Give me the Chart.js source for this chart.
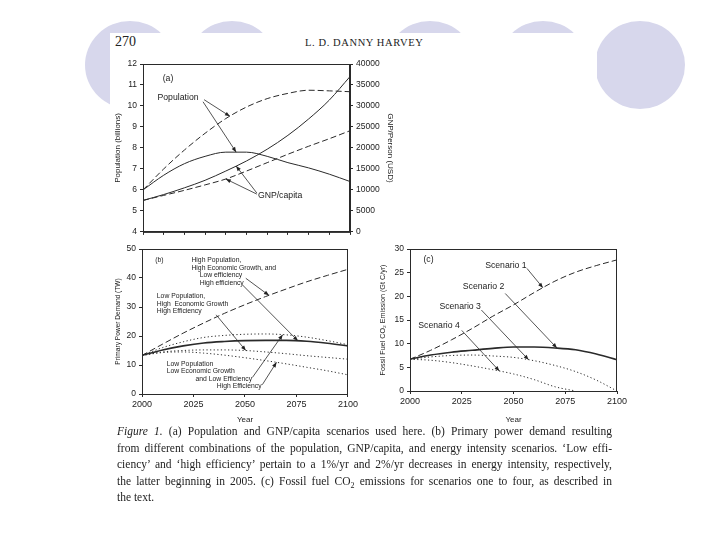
<!DOCTYPE html>
<html>
<head>
<meta charset="utf-8">
<script src="https://cdn.jsdelivr.net/npm/chart.js@4.4.1/dist/chart.umd.min.js"></script>
<style>
body{margin:0;width:720px;height:540px;background:#fff;position:relative;overflow:hidden;font-family:"Liberation Serif",serif;color:#222}
.dot{position:absolute;border-radius:50%;background:#d7d7ec;width:90px;height:88px;top:21px}
#page{position:absolute;left:110px;top:33px;width:487px;height:475px;background:#fff}
canvas{position:absolute}
.hd{position:absolute;white-space:nowrap}
.cap{position:absolute;left:117px;width:495px;font-size:11.5px;line-height:14px;white-space:nowrap;text-align:justify;text-align-last:justify}
</style>
</head>
<body>
<div class="dot" style="left:85px"></div>
<div class="dot" style="left:187px"></div>
<div class="dot" style="left:385px"></div>
<div class="dot" style="left:498px"></div>
<div class="dot" style="left:595px"></div>
<div id="page"></div>
<div class="hd" style="left:115px;top:34px;font-size:14px">270</div>
<div class="hd" style="left:305px;top:37px;font-size:10.5px;letter-spacing:0.6px">L. D. DANNY HARVEY</div>
<canvas id="chartA" width="300" height="185" style="left:105px;top:55px"></canvas>
<canvas id="chartB" width="255" height="185" style="left:105px;top:240px"></canvas>
<canvas id="chartC" width="260" height="185" style="left:370px;top:240px"></canvas>
<div class="cap" style="top:424px"><i>Figure 1.</i> (a) Population and GNP/capita scenarios used here. (b) Primary power demand resulting</div>
<div class="cap" style="top:441px">from different combinations of the population, GNP/capita, and energy intensity scenarios. ‘Low effi-</div>
<div class="cap" style="top:457px">ciency’ and ‘high efficiency’ pertain to a 1%/yr and 2%/yr decreases in energy intensity, respectively,</div>
<div class="cap" style="top:474px">the latter beginning in 2005. (c) Fossil fuel CO<sub style="font-size:8px">2</sub> emissions for scenarios one to four, as described in</div>
<div class="cap" style="top:490px;text-align-last:left">the text.</div>
<script>
// years shared by all three panels
const years = [2000, 2010, 2020, 2030, 2040, 2050, 2060, 2070, 2080, 2090, 2100]

// (a) population (billions) and GNP/capita (USD)
const popHigh = [6.0, 7.0, 7.9, 8.7, 9.4, 9.95, 10.35, 10.6, 10.75, 10.72, 10.68]
const popLow = [6.0, 6.7, 7.25, 7.6, 7.8, 7.8, 7.6, 7.3, 7.05, 6.75, 6.4]
const gnpHigh = [7500, 8900, 10500, 12300, 14500, 16900, 19700, 23000, 26900, 31400, 37000]
const gnpLow = [7500, 8700, 9900, 11200, 12600, 14500, 16500, 18500, 20400, 22200, 24100]

// (b) primary power demand (TW)
const hiPopLowEff = [13.3, 17.2, 21.0, 24.5, 27.8, 30.8, 33.6, 36.2, 38.7, 40.9, 43.0]
const hiPopHighEff = [13.3, 15.2, 16.6, 17.6, 18.1, 18.4, 18.5, 18.5, 18.2, 17.5, 16.6]
const loPopLoGrowthLowEff = [13.3, 16.0, 18.0, 19.5, 20.2, 20.6, 20.7, 20.4, 19.6, 18.4, 17.0]
const loPopHiGrowthHighEff = [13.3, 14.5, 15.0, 15.2, 15.2, 15.0, 14.5, 13.9, 13.2, 12.6, 12.0]
const loPopLoGrowthHighEff = [13.3, 14.3, 14.5, 14.1, 13.4, 12.5, 11.5, 10.4, 9.2, 8.0, 6.6]

// (c) fossil fuel CO2 emission (Gt C/yr)
const scenario1 = [6.7, 8.6, 10.8, 13.2, 15.8, 18.2, 20.8, 23.2, 25.1, 26.5, 27.7]
const scenario2 = [6.7, 7.6, 8.2, 8.6, 9.0, 9.3, 9.3, 9.1, 8.7, 7.8, 6.6]
const scenario3 = [6.7, 7.2, 7.5, 7.6, 7.4, 7.1, 6.4, 5.4, 4.1, 2.3, 0.0]
const scenario4 = [6.7, 6.5, 6.0, 5.3, 4.5, 3.6, 2.4, 0.9, 0.0, null, null]

Chart.defaults.font.family = '"Liberation Sans", Arial, sans-serif'
Chart.defaults.font.size = 8.5
Chart.defaults.color = '#222'

const pts = vals => years.map((x, i) => ({x, y: vals[i]}))
const ink = '#2a2a2a'
const line = (vals, dash, width, axis) => ({
    data: pts(vals), borderColor: ink, borderWidth: width || 1, borderDash: dash || [],
    pointRadius: 0, fill: false, cubicInterpolationMode: 'monotone', yAxisID: axis || 'y', spanGaps: false
})
const DASH = [6, 3], DOT = [1.2, 2.4]

// frame, labels and arrows, all placed through the scales
const notes = {
    id: 'notes',
    afterDatasetsDraw(chart, args, o) {
        const ctx = chart.ctx, a = chart.chartArea, xs = chart.scales.x, ys = chart.scales.y
        ctx.save()
        ctx.strokeStyle = ink
        ctx.lineWidth = 1
        ctx.strokeRect(a.left + 0.5, a.top + 0.5, a.right - a.left - 1, a.bottom - a.top)
        ctx.font = o.size + 'px "Liberation Sans", Arial, sans-serif'
        ctx.fillStyle = '#222'
        ctx.textBaseline = 'middle'
        ;(o.texts || []).forEach(t => ctx.fillText(t[2], xs.getPixelForValue(2000 + t[0]), ys.getPixelForValue(t[1])))
        ;(o.arrows || []).forEach(ar => {
            const ds = chart.data.datasets[ar[2]]
            const sc = chart.scales[ds.yAxisID || 'y']
            const yr = 2000 + ar[3]
            let k = 0
            while (k < ds.data.length - 2 && ds.data[k + 1].x < yr) k++
            const p0 = ds.data[k], p1 = ds.data[k + 1]
            const v = p0.y + (p1.y - p0.y) * (yr - p0.x) / (p1.x - p0.x)
            const x0 = xs.getPixelForValue(2000 + ar[0]), y0 = ys.getPixelForValue(ar[1])
            const x1 = xs.getPixelForValue(yr), y1 = sc.getPixelForValue(v)
            const ang = Math.atan2(y1 - y0, x1 - x0)
            ctx.beginPath()
            ctx.moveTo(x0, y0)
            ctx.lineTo(x1, y1)
            ctx.lineWidth = 0.8
            ctx.stroke()
            ctx.beginPath()
            ctx.moveTo(x1, y1)
            ctx.lineTo(x1 - 5 * Math.cos(ang) + 2 * Math.sin(ang), y1 - 5 * Math.sin(ang) - 2 * Math.cos(ang))
            ctx.lineTo(x1 - 5 * Math.cos(ang) - 2 * Math.sin(ang), y1 - 5 * Math.sin(ang) + 2 * Math.cos(ang))
            ctx.closePath()
            ctx.fill()
        })
        ctx.restore()
    }
}

const grid = {drawOnChartArea: false, color: ink, tickLength: 3}
const border = {color: ink}
const plain = v => String(v)
const xAxis = (labels, h) => ({
    type: 'linear', min: 2000, max: 2100,
    ticks: {display: labels, stepSize: labels ? 25 : 10, padding: 2, maxRotation: 0, callback: plain, font: {size: 9}},
    grid, border,
    title: {display: labels, text: 'Year', padding: {top: 2, bottom: 0}, font: {size: 8}},
    afterFit: s => { s.height = h }
})
const yAxis = (min, max, step, title, w, tsize, tpad, pos) => ({
    position: pos || 'left', min, max,
    ticks: {stepSize: step, padding: 3, callback: plain},
    grid, border,
    title: {display: true, text: title, padding: {top: tpad, bottom: 2}, font: {size: tsize}},
    afterFit: s => { s.width = w }
})

const generateChart = (id, datasets, scales, pad, note) => new Chart(document.getElementById(id), {
    type: 'line',
    data: {datasets},
    options: {
        responsive: false, animation: false,
        layout: {padding: pad},
        scales,
        plugins: {legend: {display: false}, tooltip: {enabled: false}, notes: note}
    },
    plugins: [notes]
})

generateChart('chartA', [
    line(popHigh, DASH),
    line(popLow),
    line(gnpHigh, [], 1, 'y2'),
    line(gnpLow, DASH, 1, 'y2')
], {
    x: xAxis(false, 7),
    y: yAxis(4, 12, 1, 'Population (billions)', 38, 8, 8),
    y2: yAxis(0, 40000, 5000, 'GNP/Person (USD)', 46, 8, 1, 'right')
}, {top: 9, right: 9}, {
    size: 8.7,
    texts: [[9.5, 11.3, '(a)'], [7, 10.4, 'Population'], [55.5, 5.75, 'GNP/capita']],
    arrows: [[29.5, 10.3, 0, 42], [29, 10.2, 1, 45], [55, 5.85, 2, 45], [55, 5.8, 3, 40]]
})

generateChart('chartB', [
    line(hiPopLowEff, DASH),
    line(hiPopHighEff, [], 1.6),
    line(loPopLoGrowthLowEff, DOT),
    line(loPopHiGrowthHighEff, DOT),
    line(loPopLoGrowthHighEff, DOT)
], {
    x: xAxis(true, 31),
    y: yAxis(0, 50, 10, 'Primary Power Demand (TW)', 37, 6.6, 9)
}, {top: 9, right: 11}, {
    size: 6.8,
    texts: [[6.4, 46, '(b)'],
        [24, 46.2, 'High Population,'], [24, 43.5, 'High Economic Growth, and'],
        [28, 40.9, 'Low efficiency'], [28, 38.4, 'High efficiency'],
        [7.2, 33.6, 'Low Population,'], [7.2, 31.0, 'High  Economic Growth'], [7.2, 28.6, 'High Efficiency'],
        [12, 10.3, 'Low Population'], [12, 7.8, 'Low Economic Growth'],
        [26, 5.3, 'and Low Efficiency'], [36.3, 2.6, 'High Efficiency']],
    arrows: [[50.4, 39.9, 0, 61.6], [48.8, 37.6, 1, 75.7], [36, 27.3, 3, 50.4], [53.6, 5.7, 2, 68.3], [58.4, 3.2, 4, 65.3]]
})

generateChart('chartC', [
    line(scenario1, DASH),
    line(scenario2, [], 1.6),
    line(scenario3, DOT),
    line(scenario4, DOT)
], {
    x: xAxis(true, 34),
    y: yAxis(0, 30, 5, 'Fossil Fuel CO\u2082 Emission (Gt C/yr)', 40, 7.2, 9)
}, {top: 9, right: 13}, {
    size: 8.7,
    texts: [[6.5, 27.7, '(c)'], [36.3, 26.5, 'Scenario 1'], [25.5, 22.0, 'Scenario 2'],
        [14.2, 17.8, 'Scenario 3'], [4, 13.8, 'Scenario 4']],
    arrows: [[56.5, 25.9, 0, 64.2], [46, 20.6, 1, 71], [34.5, 17.1, 2, 57.3], [25, 12.8, 3, 43.2]]
})
</script>
</body>
</html>
